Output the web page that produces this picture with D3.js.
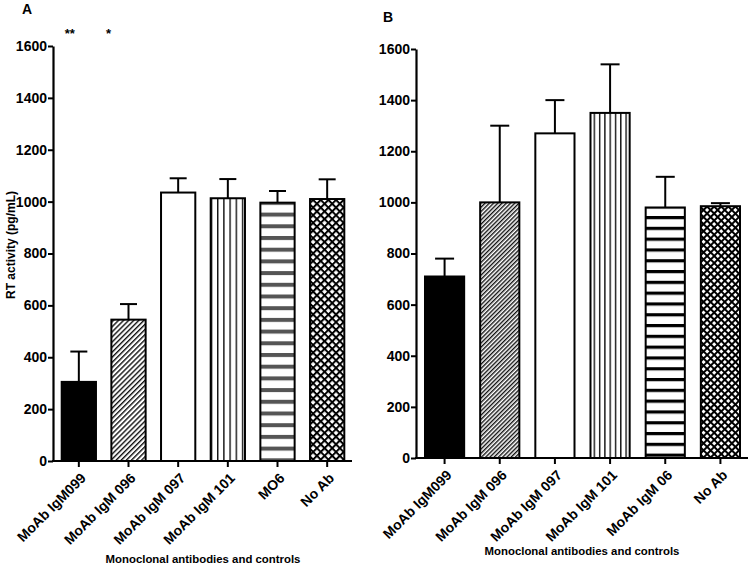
<!DOCTYPE html>
<html><head><meta charset="utf-8">
<script src="https://cdn.jsdelivr.net/npm/d3@7"></script>
<style>
body{margin:0;background:#fff;}
svg{display:block;font-family:"Liberation Sans",Arial,sans-serif;}
</style></head>
<body>
<svg id="chart" width="750" height="566"></svg>
<script>
// ---- Data ----
const categoriesA = ["MoAb IgM099","MoAb IgM 096","MoAb IgM 097","MoAb IgM 101","MO6","No Ab"];
const valuesA = [305, 545, 1035, 1013, 996, 1010];
const errorsA = [117, 60, 55, 74, 45, 76];
const categoriesB = ["MoAb IgM099","MoAb IgM 096","MoAb IgM 097","MoAb IgM 101","MoAb IgM 06","No Ab"];
const valuesB = [710, 1000, 1270, 1350, 980, 985];
const errorsB = [70, 300, 130, 190, 120, 12];
const yTicks = [0,200,400,600,800,1000,1200,1400,1600];
const fillKeys = ["solid","diag","white","vert","horiz","cross"];
const significanceA = ["**","*","","","",""];

const svg = d3.select("#chart");
const defs = svg.append("defs");

function makePatterns(prefix, o){
  let p = defs.append("pattern").attr("id",prefix+"diag").attr("patternUnits","userSpaceOnUse")
    .attr("width",o.diag).attr("height",o.diag).attr("patternTransform","rotate(45)");
  p.append("rect").attr("width",o.diag).attr("height",o.diag).attr("fill","#fff");
  p.append("rect").attr("x",0).attr("y",0).attr("width",1.4).attr("height",o.diag).attr("fill","#111");
  p = defs.append("pattern").attr("id",prefix+"vert").attr("patternUnits","userSpaceOnUse")
    .attr("width",o.vert).attr("height",10).attr("x",o.vertX);
  p.append("rect").attr("width",o.vert).attr("height",10).attr("fill","#fff");
  p.append("rect").attr("x",0).attr("width",1.4).attr("height",10).attr("fill","#111");
  p = defs.append("pattern").attr("id",prefix+"horiz").attr("patternUnits","userSpaceOnUse")
    .attr("width",10).attr("height",o.horiz).attr("y",o.horizY);
  p.append("rect").attr("width",10).attr("height",o.horiz).attr("fill","#fff");
  p.append("rect").attr("y",0).attr("width",10).attr("height",o.horizW).attr("fill",o.horizC);
  p = defs.append("pattern").attr("id",prefix+"cross").attr("patternUnits","userSpaceOnUse")
    .attr("width",o.cross).attr("height",o.cross).attr("patternTransform","rotate(45)");
  p.append("rect").attr("width",o.cross).attr("height",o.cross).attr("fill","#fff");
  p.append("rect").attr("x",0).attr("width",o.crossW).attr("height",o.cross).attr("fill","#000");
  p.append("rect").attr("y",0).attr("width",o.cross).attr("height",o.crossW).attr("fill","#000");
}
makePatterns("A",{diag:3.6,vert:6.2,vertX:0,horiz:11.7,horizW:4,horizC:"#555",horizY:2,cross:5.4,crossW:2});
makePatterns("B",{diag:3.0,vert:5.3,vertX:0,horiz:10.8,horizW:3.2,horizC:"#000",horizY:0,cross:5.0,crossW:2});

function fillFor(prefix,k){
  if(k==="solid") return "#000";
  if(k==="white") return "#fff";
  return "url(#"+prefix+k+")";
}

function panel(o){
  const g = svg.append("g");
  const x = d3.scaleBand().domain(o.cats).range([o.x0,o.x1]).paddingInner(o.pad).paddingOuter(o.pad/2);
  const y = d3.scaleLinear().domain([0,1600]).range([o.y0,o.y1]);

  g.selectAll("rect.bar").data(o.cats).join("rect")
    .attr("x",d=>x(d)).attr("width",x.bandwidth())
    .attr("y",(d,i)=>y(o.vals[i])).attr("height",(d,i)=>y(0)-y(o.vals[i]))
    .attr("fill",(d,i)=>fillFor(o.prefix,fillKeys[i]))
    .attr("stroke","#000").attr("stroke-width",2);

  const eb = g.selectAll("g.eb").data(o.cats).join("g");
  eb.append("line")
    .attr("x1",d=>x(d)+x.bandwidth()/2).attr("x2",d=>x(d)+x.bandwidth()/2)
    .attr("y1",(d,i)=>y(o.vals[i])).attr("y2",(d,i)=>y(o.vals[i]+o.errs[i]))
    .attr("stroke","#000").attr("stroke-width",2);
  eb.append("line")
    .attr("x1",d=>x(d)+x.bandwidth()/2-o.cap).attr("x2",d=>x(d)+x.bandwidth()/2+o.cap)
    .attr("y1",(d,i)=>y(o.vals[i]+o.errs[i])).attr("y2",(d,i)=>y(o.vals[i]+o.errs[i]))
    .attr("stroke","#000").attr("stroke-width",2);

  const ya = g.append("g").attr("transform",`translate(${o.x0-1},0)`)
    .call(d3.axisLeft(y).tickValues(yTicks).tickFormat(d3.format("d")).tickSize(5).tickPadding(1).tickSizeOuter(0));
  ya.select(".domain").attr("stroke-width",2.2);
  ya.selectAll(".tick line").attr("stroke-width",2);
  ya.selectAll("text").attr("font-size",14).attr("font-weight","bold").attr("fill","#000")
    .attr("font-family","Liberation Sans, Arial, sans-serif");

  const xa = g.append("g").attr("transform",`translate(0,${o.y0})`)
    .call(d3.axisBottom(x).tickSize(6).tickSizeOuter(0));
  xa.select(".domain").attr("stroke-width",2.2).attr("d",`M${o.x0-2},0H${o.x1}`);
  xa.selectAll(".tick line").attr("stroke-width",2);
  xa.selectAll("text").attr("font-size",14).attr("font-weight","bold").attr("fill","#000")
    .attr("font-family","Liberation Sans, Arial, sans-serif")
    .attr("text-anchor","end").attr("dy","0.3em")
    .attr("transform","translate(5,15) rotate(-45)").attr("y",0).attr("x",0);

  g.append("text").attr("x",o.titleX).attr("y",o.titleY).attr("text-anchor","middle")
    .attr("font-size",11.4).attr("font-weight","bold").text("Monoclonal antibodies and controls");

  g.append("text").attr("x",o.letterX).attr("y",o.letterY).attr("font-size",14).attr("font-weight","bold").text(o.letter);
  return {x,y,g};
}

const A = panel({prefix:"A",cats:categoriesA,vals:valuesA,errs:errorsA,x0:54,x1:352,y0:461,y1:46,pad:0.31,cap:8.5,
  titleX:203,titleY:563,letterX:22,letterY:14,letter:"A"});
const B = panel({prefix:"B",cats:categoriesB,vals:valuesB,errs:errorsB,x0:417,x1:748,y0:458,y1:49,pad:0.29,cap:9.5,
  titleX:582,titleY:555,letterX:383,letterY:22,letter:"B"});

A.g.selectAll("text.sig").data(categoriesA).join("text")
  .attr("x",(d,i)=>A.x(d)+A.x.bandwidth()/2-(i===0?9:20)).attr("y",38)
  .attr("text-anchor","middle").attr("font-size",13).attr("font-weight","bold")
  .text((d,i)=>significanceA[i]);

svg.append("text").attr("transform","translate(15,245) rotate(-90)").attr("text-anchor","middle")
  .attr("font-size",12).attr("font-weight","bold").text("RT activity (pg/mL)");
</script>
</body></html>
